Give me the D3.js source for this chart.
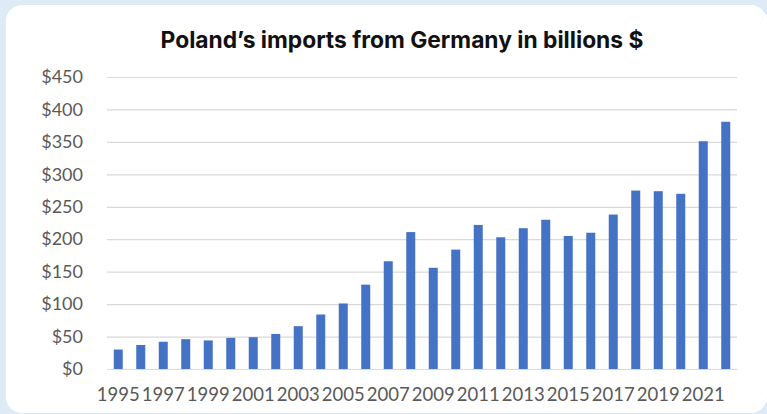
<!DOCTYPE html>
<html>
<head>
<meta charset="utf-8">
<script src="https://cdn.jsdelivr.net/npm/d3@7"></script>
<style>
  html, body { margin: 0; padding: 0; background: #deebf6; }
  svg { display: block; }
</style>
</head>
<body>
<svg id="chart" width="767" height="414"></svg>
<script>
// Poland's imports from Germany, billions of US dollars
const years = d3.range(1995, 2023).map(String);
const imports = [30, 37, 42, 46, 44, 48, 49, 54, 66, 84, 101, 130, 166, 211, 156, 184,
                 222, 203, 217, 230, 205, 210, 238, 275, 274, 270, 351, 381];
const yTicks = [0, 50, 100, 150, 200, 250, 300, 350, 400, 450];
const xTickLabels = years.filter((d, i) => i % 2 === 0);
const title = "Poland\u2019s imports from Germany in billions $";

const svg = d3.select("#chart");
const W = 767, H = 414;

// white card
svg.append("rect")
  .attr("x", 6).attr("y", 5)
  .attr("width", 761).attr("height", 408)
  .attr("rx", 16).attr("ry", 16)
  .attr("fill", "#ffffff");

const margin = { left: 107, right: 767 - 737, top: 77, bottom: 414 - 369 };

const x = d3.scaleBand()
  .domain(years)
  .range([margin.left, W - margin.right])
  .paddingInner(0.6)
  .paddingOuter(0.3);

const y = d3.scaleLinear()
  .domain([0, 450])
  .range([H - margin.bottom, margin.top]);

// title
svg.append("text")
  .attr("x", 402).attr("y", 48)
  .attr("text-anchor", "middle")
  .attr("font-family", "Inter, 'Open Sans', sans-serif")
  .attr("font-weight", 700)
  .attr("font-size", 22.8)
  .attr("fill", "#111111")
  .text(title);

// horizontal gridlines + y labels
const yAxis = d3.axisLeft(y)
  .tickValues(yTicks)
  .tickSize(-(W - margin.right - margin.left))
  .tickPadding(24)
  .tickFormat(d => "$" + d);

const gy = svg.append("g")
  .attr("transform", `translate(${margin.left},0)`)
  .call(yAxis);
gy.attr("font-family", "Lato, sans-serif");
gy.select(".domain").remove();
gy.selectAll(".tick line").attr("stroke", "#d9d9d9").attr("stroke-width", 1.2);
gy.selectAll(".tick text")
  .attr("font-family", "Lato, sans-serif")
  .attr("font-size", 18)
  .attr("fill", "#595959");

// bars
svg.append("g")
  .selectAll("rect")
  .data(imports)
  .join("rect")
  .attr("x", (d, i) => x(years[i]))
  .attr("width", x.bandwidth())
  .attr("y", d => y(d))
  .attr("height", d => y(0) - y(d))
  .attr("fill", "#4472c4");

// x axis labels
const xAxis = d3.axisBottom(x)
  .tickValues(xTickLabels)
  .tickSize(0)
  .tickPadding(19);
const gx = svg.append("g")
  .attr("transform", `translate(0,${y(0)})`)
  .call(xAxis);
gx.attr("font-family", "Lato, sans-serif");
gx.select(".domain").attr("stroke", "#d9d9d9").attr("stroke-width", 1.2);
gx.selectAll(".tick text")
  .attr("font-family", "Lato, sans-serif")
  .attr("font-size", 18.5)
  .attr("fill", "#595959");
</script>
</body>
</html>
